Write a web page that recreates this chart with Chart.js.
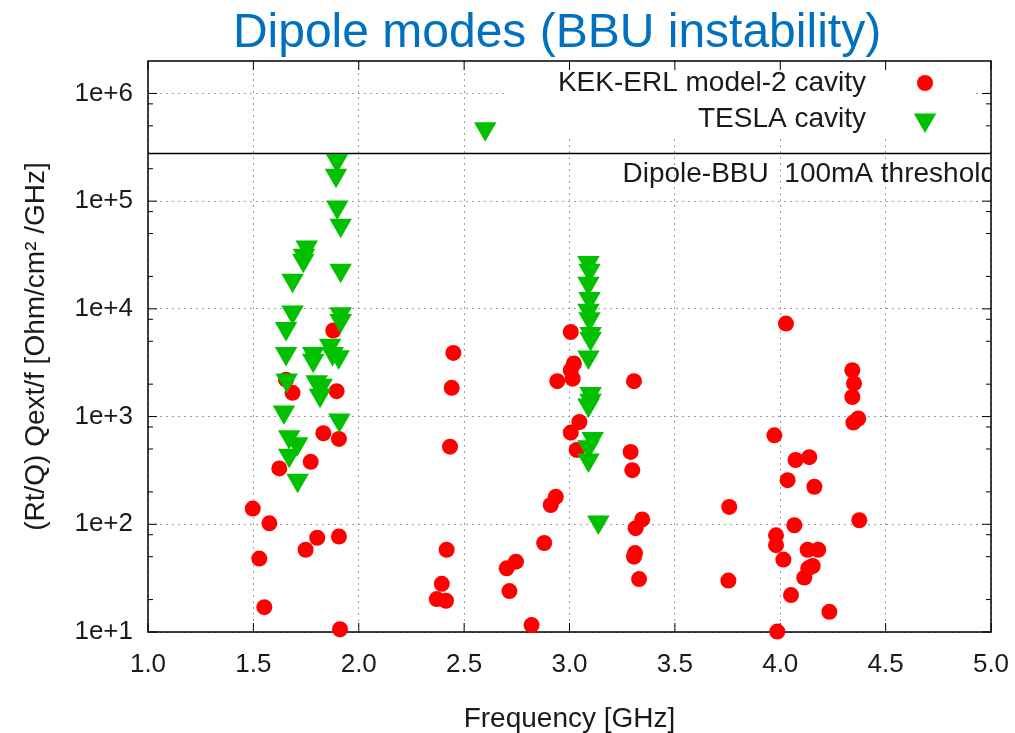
<!DOCTYPE html>
<html>
<head>
<meta charset="utf-8">
<script src="https://cdn.jsdelivr.net/npm/chart.js@4.4.0/dist/chart.umd.min.js"></script>
<style>
  html, body { margin: 0; padding: 0; background: #fff; }
  #wrap { width: 1015px; height: 733px; }
</style>
</head>
<body>
<div id="wrap"><canvas id="bbuChart" width="1015" height="733"></canvas></div>
<script>
// Dipole modes (BBU instability) - gnuplot style scatter on log y axis

const chartTitle = 'Dipole modes (BBU instability)';
const kekLabel = 'KEK-ERL model-2 cavity';
const teslaLabel = 'TESLA cavity';
const thresholdLabel = 'Dipole-BBU  100mA threshold';
const xAxisTitle = 'Frequency [GHz]';
const yAxisTitle = '(Rt/Q) Qext/f [Ohm/cm\u00B2 /GHz]';

// KEK-ERL model-2 cavity (red circles)
const kekFreq = [
    1.497, 1.528, 1.552, 1.576, 1.623, 1.655, 1.686, 1.748, 1.772, 1.803,
    1.832, 1.879, 1.895, 1.906, 1.906, 1.911,
    2.370, 2.394, 2.414, 2.417, 2.433, 2.441, 2.449,
    2.702, 2.715, 2.746, 2.820, 2.880, 2.911, 2.935, 2.942,
    3.006, 3.006, 3.015, 3.021, 3.006, 3.047, 3.034,
    3.290, 3.298, 3.306, 3.314, 3.345, 3.311, 3.306, 3.330,
    3.754, 3.758, 3.972, 3.980, 3.980, 3.986, 4.015, 4.027, 4.035, 4.051,
    4.067, 4.073, 4.114, 4.130, 4.133, 4.138, 4.154, 4.162, 4.180, 4.233,
    4.342, 4.350, 4.342, 4.347, 4.370, 4.375
];
const kekValue = [
    140, 48, 17, 102, 330, 2200, 1660, 58, 380, 75,
    700, 6300, 1720, 620, 77, 10.6,
    20.2, 28, 19.5, 58, 525, 1850, 3900,
    39, 24, 45, 11.6, 67, 151, 180, 2130,
    6100, 2690, 2250, 3110, 710, 890, 490,
    470, 318, 2130, 92, 111, 54, 50, 31,
    30, 145, 670, 79, 64, 10.1, 47, 7300, 257, 22,
    98, 395, 32, 58, 39, 420, 41, 223, 58, 15.4,
    2690, 2030, 1520, 880, 960, 109
];

// TESLA cavity (green triangles)
const teslaFreq = [
    1.645, 1.655, 1.655, 1.658, 1.670, 1.670, 1.686, 1.686, 1.708, 1.710,
    1.737, 1.740, 1.753, 1.784, 1.784, 1.800, 1.816, 1.824, 1.864, 1.876,
    1.892, 1.897, 1.898, 1.908, 1.914, 1.914, 1.914, 1.914, 1.905,
    2.600,
    3.090, 3.095, 3.090, 3.095, 3.090, 3.095, 3.100, 3.100, 3.090, 3.100,
    3.100, 3.090, 3.110, 3.090, 3.090, 3.137
];
const teslaValue = [
    1100, 6560, 3850, 2180, 650, 438, 18400, 9350, 560, 257,
    28200, 31400, 37500, 3850, 3330, 2100, 1580, 1950, 4600, 3850,
    174000, 239000, 88000, 930, 59700, 22800, 9000, 7800, 3600,
    470000,
    27000, 22800, 17300, 12500, 9700, 8100, 5900, 5300, 3580, 1640,
    1420, 1280, 627, 525, 395, 105
];

// 100 mA threshold line
const thresholdFreq = [1.0, 5.0];
const thresholdValue = [2.77e5, 2.77e5];

// Axes
const xTicks = [1.0, 1.5, 2.0, 2.5, 3.0, 3.5, 4.0, 4.5, 5.0];
const xTickLabels = ['1.0', '1.5', '2.0', '2.5', '3.0', '3.5', '4.0', '4.5', '5.0'];
const yMajorTicks = [1e1, 1e2, 1e3, 1e4, 1e5, 1e6];
const yTickLabels = ['1e+1', '1e+2', '1e+3', '1e+4', '1e+5', '1e+6'];
const yMinorSteps = [2, 5, 8];
const yMin = 10;
const yMax = 2e6;

const FONT = "'Liberation Sans', Arial, sans-serif";
const TEXT_COLOR = '#1a1a1a';
const RED = 'rgb(255, 0, 0)';
const GREEN = 'rgb(0, 192, 0)';

const toPoints = (xs, ys) => xs.map((x, i) => ({ x: x, y: ys[i] }));
const isMajorY = (v) => yMajorTicks.some(m => Math.abs(m - v) / m < 1e-6);

const gnuplotFrame = {
    id: 'gnuplotFrame',
    beforeDatasetsDraw(chart) {
        const { ctx, chartArea: a, scales } = chart;
        ctx.save();

        // opaque key box
        ctx.fillStyle = '#fff';
        ctx.fillRect(505, a.top + 2, 470, 74);

        // border
        ctx.strokeStyle = '#000';
        ctx.lineWidth = 1.5;
        ctx.strokeRect(a.left, a.top, a.right - a.left, a.bottom - a.top);

        // tick marks inside the box, mirrored
        ctx.lineWidth = 1;
        scales.x.ticks.forEach(t => {
            const px = scales.x.getPixelForValue(t.value);
            ctx.beginPath();
            ctx.moveTo(px, a.bottom); ctx.lineTo(px, a.bottom - 9);
            ctx.moveTo(px, a.top); ctx.lineTo(px, a.top + 9);
            ctx.stroke();
        });
        scales.y.ticks.forEach(t => {
            const py = scales.y.getPixelForValue(t.value);
            const len = isMajorY(t.value) ? 9 : 5;
            ctx.beginPath();
            ctx.moveTo(a.left, py); ctx.lineTo(a.left + len, py);
            ctx.moveTo(a.right, py); ctx.lineTo(a.right - len, py);
            ctx.stroke();
        });

        // key
        ctx.fillStyle = TEXT_COLOR;
        ctx.font = '28px ' + FONT;
        ctx.textAlign = 'right';
        ctx.textBaseline = 'middle';
        ctx.fillText(kekLabel, 866, 83);
        ctx.fillText(teslaLabel, 866, 119);
        ctx.fillStyle = RED;
        Chart.helpers.drawPoint(ctx, { pointStyle: 'circle', radius: 8, rotation: 0, borderWidth: 0 }, 925, 83);
        ctx.fillStyle = GREEN;
        Chart.helpers.drawPoint(ctx, { pointStyle: 'triangle', radius: 13, rotation: 180, borderWidth: 0 }, 925, 120);

        // threshold label, clipped by the right border
        ctx.save();
        ctx.beginPath();
        ctx.rect(a.left, a.top, a.right - a.left, a.bottom - a.top);
        ctx.clip();
        ctx.fillStyle = TEXT_COLOR;
        ctx.font = '28px ' + FONT;
        ctx.textAlign = 'right';
        ctx.fillText(thresholdLabel, a.right + 5, 174);
        ctx.restore();

        ctx.restore();
    },
    afterDraw(chart) {
        const { ctx } = chart;
        ctx.save();
        ctx.fillStyle = 'rgb(0, 112, 192)';
        ctx.font = '48px ' + FONT;
        ctx.textAlign = 'center';
        ctx.textBaseline = 'alphabetic';
        ctx.fillText(chartTitle, 557, 47);
        ctx.restore();
    }
};

new Chart(document.getElementById('bbuChart'), {
    type: 'scatter',
    data: {
        datasets: [
            {
                label: teslaLabel,
                data: toPoints(teslaFreq, teslaValue),
                pointStyle: 'triangle',
                rotation: 180,
                radius: 13,
                hoverRadius: 13,
                backgroundColor: GREEN,
                borderWidth: 0,
                clip: false
            },
            {
                label: kekLabel,
                data: toPoints(kekFreq, kekValue),
                pointStyle: 'circle',
                radius: 8,
                hoverRadius: 8,
                backgroundColor: RED,
                borderWidth: 0,
                clip: false
            },
            {
                type: 'line',
                label: 'threshold',
                data: toPoints(thresholdFreq, thresholdValue),
                borderColor: '#000',
                borderWidth: 1.5,
                pointRadius: 0,
                fill: false
            }
        ]
    },
    options: {
        responsive: false,
        animation: false,
        events: [],
        layout: { padding: { top: 61, right: 24, left: 0, bottom: 0 } },
        plugins: {
            legend: { display: false },
            title: { display: false },
            tooltip: { enabled: false }
        },
        scales: {
            x: {
                type: 'linear',
                min: 1.0,
                max: 5.0,
                afterBuildTicks: (scale) => { scale.ticks = xTicks.map(v => ({ value: v })); },
                afterFit: (scale) => {
                    scale.height = 101;
                    scale.paddingLeft = 0;
                    scale.paddingRight = 0;
                },
                ticks: {
                    autoSkip: false,
                    maxRotation: 0,
                    padding: 17,
                    color: TEXT_COLOR,
                    font: { family: FONT, size: 26 },
                    callback: (v, i) => xTickLabels[i]
                },
                grid: {
                    drawTicks: false,
                    color: '#a0a0a0',
                    lineWidth: 1
                },
                border: { display: false, dash: [2, 4] },
                title: {
                    display: true,
                    text: xAxisTitle,
                    color: TEXT_COLOR,
                    font: { family: FONT, size: 28, lineHeight: 1 },
                    padding: { top: 0, bottom: 0 }
                }
            },
            y: {
                type: 'logarithmic',
                min: yMin,
                max: yMax,
                afterBuildTicks: (scale) => {
                    const vals = [];
                    yMajorTicks.forEach(m => {
                        vals.push({ value: m, major: true });
                        yMinorSteps.forEach(s => {
                            if (m * s < yMax) vals.push({ value: m * s });
                        });
                    });
                    scale.ticks = vals;
                },
                afterFit: (scale) => {
                    scale.width = 148;
                    scale.paddingTop = 0;
                    scale.paddingBottom = 0;
                },
                ticks: {
                    autoSkip: false,
                    padding: 15,
                    color: TEXT_COLOR,
                    font: { family: FONT, size: 26 },
                    callback: (v) => {
                        const idx = yMajorTicks.findIndex(m => Math.abs(m - v) / m < 1e-6);
                        return idx >= 0 ? yTickLabels[idx] : '';
                    }
                },
                grid: {
                    drawTicks: false,
                    lineWidth: 1,
                    color: (c) => (c.tick && isMajorY(c.tick.value)) ? '#a0a0a0' : 'rgba(0,0,0,0)'
                },
                border: { display: false, dash: [2, 4] },
                title: {
                    display: true,
                    text: yAxisTitle,
                    color: TEXT_COLOR,
                    font: { family: FONT, size: 28, lineHeight: 1 },
                    padding: { top: 22, bottom: 0 }
                }
            }
        }
    },
    plugins: [gnuplotFrame]
});
</script>
</body>
</html>
